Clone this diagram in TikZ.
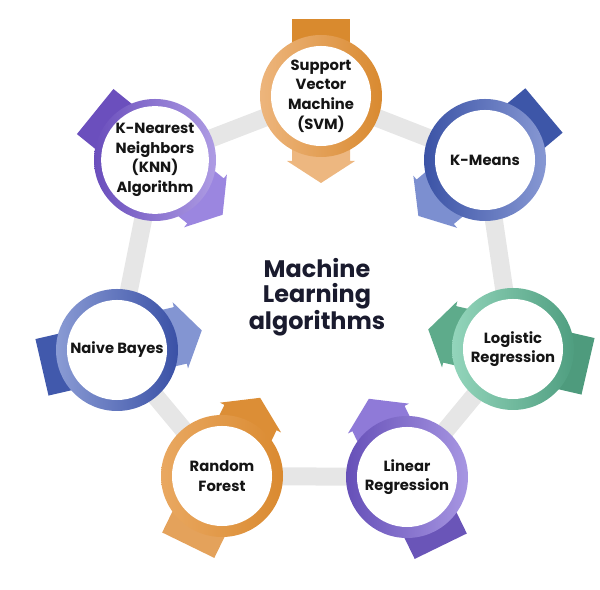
\documentclass[tikz,border=0pt]{standalone}
\usepackage{fontspec}
\setmainfont{Poppins}
\usepackage{xcolor}
\usetikzlibrary{backgrounds}
\definecolor{ink}{HTML}{151515}
\definecolor{navy}{HTML}{1A1B2E}
\definecolor{bargray}{HTML}{E6E6E6}
\definecolor{svmtab}{HTML}{D98A2E}\definecolor{svmarr}{HTML}{EDB780}
\definecolor{svmL}{HTML}{EDB57C}\definecolor{svmR}{HTML}{D98A30}
\definecolor{kmtab}{HTML}{3D56A8}\definecolor{kmarr}{HTML}{7C8FD0}
\definecolor{kmL}{HTML}{3B53A6}\definecolor{kmR}{HTML}{8798D3}
\definecolor{lgtab}{HTML}{4E9B7D}\definecolor{lgarr}{HTML}{5EAB8B}
\definecolor{lgL}{HTML}{93D5BB}\definecolor{lgR}{HTML}{4F9E80}
\definecolor{lntab}{HTML}{6A55B8}\definecolor{lnarr}{HTML}{8F7AD8}
\definecolor{lnL}{HTML}{6650B8}\definecolor{lnR}{HTML}{A796E2}
\definecolor{rftab}{HTML}{E4A25B}\definecolor{rfarr}{HTML}{DC8E36}
\definecolor{rfL}{HTML}{E9A861}\definecolor{rfR}{HTML}{DA8A30}
\definecolor{nbtab}{HTML}{4159AC}\definecolor{nbarr}{HTML}{8395D2}
\definecolor{nbL}{HTML}{8A9BD4}\definecolor{nbR}{HTML}{3A51A6}
\definecolor{kntab}{HTML}{6B4FBD}\definecolor{knarr}{HTML}{9B86E0}
\definecolor{knL}{HTML}{6A4EBC}\definecolor{knR}{HTML}{AE9CE4}
% x, y, angle, tab, arrow, ring left, ring right, name, text
\newcommand{\badge}[9]{%
 \begin{scope}[shift={(#1,#2)},rotate=#3]
  \fill[#4] (0,-29) rectangle (77,29);
  \fill[#5] (0,-29) -- (-65,-29) -- (-65,-34) -- (-87,0) -- (-65,34) -- (-65,29) -- (0,29) -- cycle;
 \end{scope}
 \shade[left color=#6,right color=#7] (#1,#2) circle (61);
 \node[alg] (#8) at (#1,#2) {#9};}

\begin{document}
\begin{tikzpicture}[x=0.025cm,y=0.025cm,
  alg/.style={circle,fill=white,minimum size=2.5cm,inner sep=0pt,align=center,font=\bfseries\fontsize{10.5}{14}\selectfont,text=ink},
  hub/.style={align=center,font=\bfseries\fontsize{17}{18}\selectfont,text=navy},
  link/.style={line width=0.45cm,draw=bargray}]
\useasboundingbox (0,0) rectangle (600,590);
\badge{321}{494}{90}{svmtab}{svmarr}{svmL}{svmR}{svm}{Support\\Vector\\Machine\\(SVM)}
\badge{485}{430}{40}{kmtab}{kmarr}{kmL}{kmR}{kmeans}{K-Means}
\badge{513}{241}{-13}{lgtab}{lgarr}{lgL}{lgR}{logreg}{Logistic\\Regression}
\badge{407}{113}{-64}{lntab}{lnarr}{lnL}{lnR}{linreg}{Linear\\Regression}
\badge{222}{114}{-116}{rftab}{rfarr}{rfL}{rfR}{forest}{Random\\Forest}
\badge{117}{240}{-167}{nbtab}{nbarr}{nbL}{nbR}{bayes}{Naive Bayes}
\badge{155}{430}{141}{kntab}{knarr}{knL}{knR}{knn}{K-Nearest\\Neighbors\\(KNN)\\Algorithm}
\node[hub] (hub) at (317,293) {Machine\\Learning\\algorithms};
\begin{pgfonlayer}{background}
 \draw[link] (svm.center) -- (kmeans.center) -- (logreg.center) -- (linreg.center)
  -- (forest.center) -- (bayes.center) -- (knn.center) -- cycle;
\end{pgfonlayer}
\end{tikzpicture}
\end{document}
